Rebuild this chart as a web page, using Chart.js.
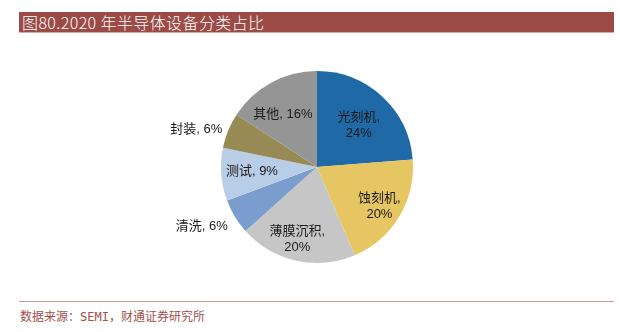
<!DOCTYPE html>
<html>
<head>
<meta charset="utf-8">
<script src="https://cdn.jsdelivr.net/npm/chart.js@4"></script>
<style>
  body { margin: 0; width: 620px; height: 332px; background: #fff; position: relative; overflow: hidden; }
  .titulo {
    position: absolute; left: 19px; top: 12px; width: 595px; height: 21px;
    background: #9b4a45; border-bottom: 1px solid #d9a8a4;
    color: #fff; font: 16px/21px "Noto Sans CJK SC", sans-serif; font-weight: 300;
    letter-spacing: 0.4px; padding-left: 3px; box-sizing: border-box; white-space: nowrap;
  }
  .grafico { position: absolute; left: 117px; top: 47px; width: 400px; height: 240px; }
  .rodape-linha { position: absolute; left: 19px; top: 301px; width: 595px; height: 0; border-top: 1.5px solid #c99a97; }
  .rodape {
    position: absolute; left: 20px; top: 309px;
    color: #a0514e; font: 12px/16px "DejaVu Sans Mono", "Noto Sans CJK SC", monospace; white-space: nowrap;
  }
</style>
</head>
<body>
<div class="titulo">图80.2020 年半导体设备分类占比</div>
<div class="grafico"><canvas id="graficoEquipamentos"></canvas></div>
<div class="rodape-linha"></div>
<div class="rodape">数据来源：SEMI，财通证券研究所</div>
<script>
const categorias = ['光刻机', '蚀刻机', '薄膜沉积', '清洗', '测试', '封装', '其他'];
const percentuais = [24, 20, 20, 6, 9, 6, 16];
const cores = ['#1f6aa6', '#e6c662', '#c6c6c6', '#7b9dcd', '#b8cde6', '#978a55', '#959595'];

// rótulos: distância radial (fração do raio), deslocamento extra, quebra de linha
const estiloRotulos = [
  { r: 0.64, dx: 0, dy: 4, quebra: true },
  { r: 0.76, dx: 0, dy: 2, quebra: true },
  { r: 0.76, dx: -4, dy: 1, quebra: true },
  { r: 1.33, dx: -6, dy: -7, quebra: false },
  { r: 0.68, dx: 0, dy: -1, quebra: false },
  { r: 1.28, dx: -7, dy: 9, quebra: false },
  { r: 0.68, dx: -3, dy: 5, quebra: false }
];

const pluginRotulos = {
  id: 'rotulosFatias',
  afterDatasetsDraw(chart) {
    const ctx = chart.ctx;
    const meta = chart.getDatasetMeta(0);
    ctx.save();
    ctx.fillStyle = '#1a1a1a';
    ctx.font = '13px "Liberation Sans", "Noto Sans CJK SC", sans-serif';
    ctx.textAlign = 'center';
    ctx.textBaseline = 'middle';
    meta.data.forEach(function(arco, i) {
      const est = estiloRotulos[i];
      const meio = (arco.startAngle + arco.endAngle) / 2;
      const x = arco.x + Math.cos(meio) * arco.outerRadius * est.r + est.dx;
      const y = arco.y + Math.sin(meio) * arco.outerRadius * est.r + est.dy;
      const valor = percentuais[i] + '%';
      if (est.quebra) {
        ctx.fillText(categorias[i] + ',', x, y - 8);
        ctx.fillText(valor, x, y + 8);
      } else {
        ctx.fillText(categorias[i] + ', ' + valor, x, y);
      }
    });
    ctx.restore();
  }
};

new Chart(document.getElementById('graficoEquipamentos').getContext('2d'), {
  type: 'pie',
  data: {
    labels: categorias,
    datasets: [{
      data: percentuais,
      backgroundColor: cores,
      borderWidth: 0
    }]
  },
  options: {
    responsive: true,
    maintainAspectRatio: false,
    animation: false,
    layout: { padding: 24 },
    plugins: {
      legend: { display: false },
      tooltip: { enabled: false }
    }
  },
  plugins: [pluginRotulos]
});
</script>
</body>
</html>
